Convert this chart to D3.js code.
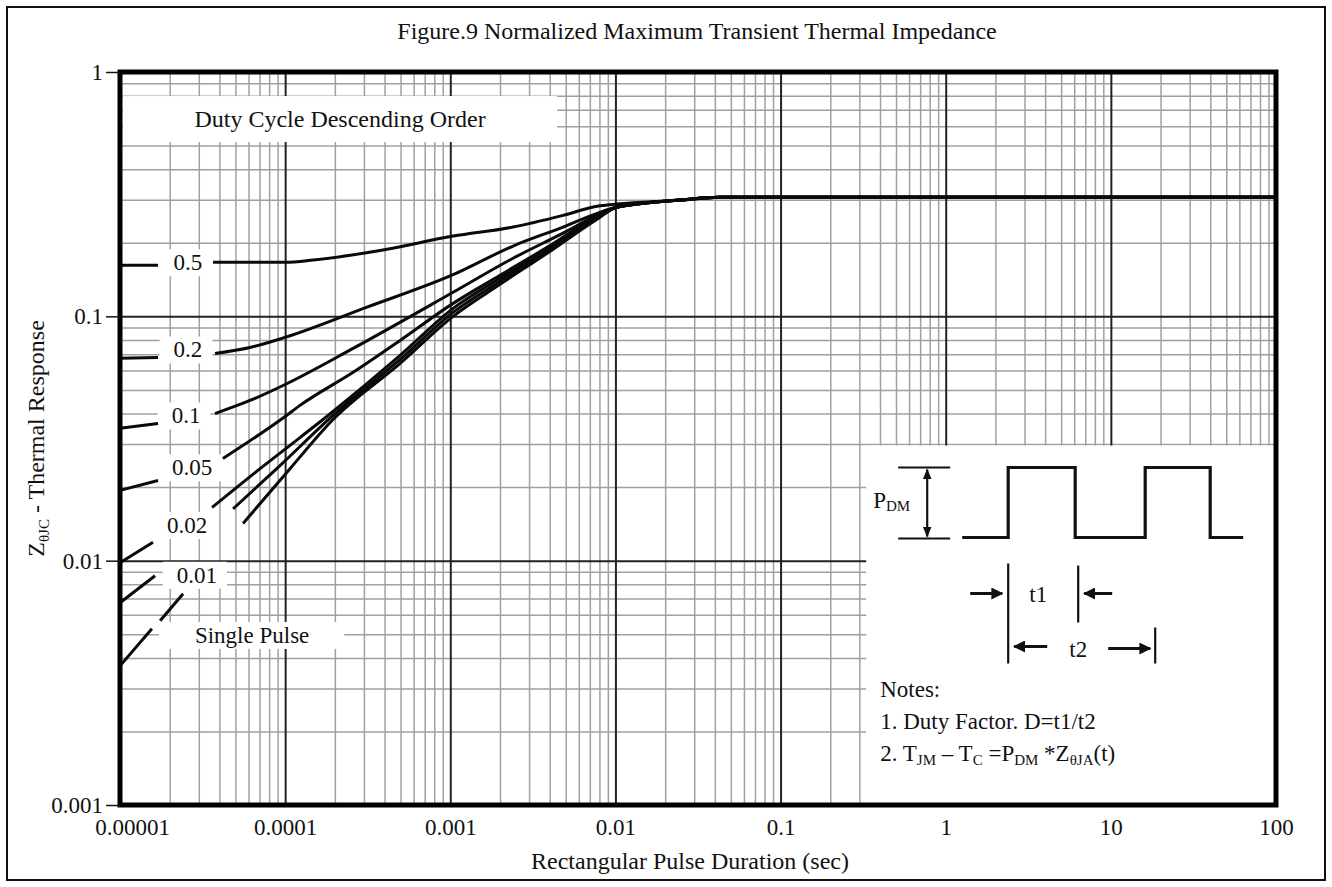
<!DOCTYPE html>
<html>
<head>
<meta charset="utf-8">
<script src="https://cdn.jsdelivr.net/npm/d3@7"></script>
<style>
  body { margin: 0; background: #fff; }
  svg text { font-family: "Liberation Serif", "Times New Roman", serif; fill: #111; }
</style>
</head>
<body>
<div id="chart"></div>
<script>
// axis ticks
const xTicks = [1e-5, 1e-4, 1e-3, 1e-2, 1e-1, 1, 10, 100];
const xTickLabels = ["0.00001", "0.0001", "0.001", "0.01", "0.1", "1", "10", "100"];
const yTicks = [0.001, 0.01, 0.1, 1];
const yTickLabels = ["0.001", "0.01", "0.1", "1"];

// curves: [pulse duration (sec), Z thermal response], null = gap behind a label
const duty05 = [[1e-5,0.162],[1.7e-5,0.162],null,[3.66e-5,0.1665],[1e-4,0.1665],[1.48e-4,0.170],[3.76e-4,0.186],[1.04e-3,0.213],[2.4e-3,0.232],[4.82e-3,0.259],[7.75e-3,0.282],[0.0102,0.288],[0.0247,0.299],[0.043,0.307],[100,0.307]];
const duty02 = [[1e-5,0.0673],[1.7e-5,0.0679],null,[3.76e-5,0.0705],[6.13e-5,0.0746],[1e-4,0.082],[3.13e-4,0.109],[1.04e-3,0.148],[2.4e-3,0.194],[4.82e-3,0.232],[7.75e-3,0.264],[0.0102,0.28],[0.0247,0.299],[0.043,0.307],[100,0.307]];
const duty01 = [[1e-5,0.0348],[1.7e-5,0.0364],null,[3.76e-5,0.040],[6.13e-5,0.04525],[1e-4,0.0526],[2.58e-4,0.0739],[1.04e-3,0.1254],[2.4e-3,0.1729],[4.82e-3,0.219],[7.75e-3,0.2594],[0.0102,0.2797],[0.0247,0.299],[0.043,0.307],[100,0.307]];
const duty005 = [[1e-5,0.0194],[1.7e-5,0.0213],null,[4.2e-5,0.0262],[1e-4,0.0389],[1.23e-4,0.0432],[2.58e-4,0.059],[4.97e-4,0.0797],[1.04e-3,0.113],[2e-3,0.1472],[3.86e-3,0.1917],[7.75e-3,0.257],[0.0102,0.2797],[0.0247,0.299],[0.043,0.307],[100,0.307]];
const duty002 = [[1e-5,0.0098],[1.585e-5,0.0119],null,[3.61e-5,0.0165],[7.05e-5,0.0238],[1.23e-4,0.0319],[1.95e-4,0.0408],[4.97e-4,0.0692],[1.04e-3,0.1078],[2e-3,0.1431],[3.86e-3,0.1882],[7.75e-3,0.2545],[0.0102,0.2797],[0.0247,0.299],[0.043,0.307],[100,0.307]];
const duty001 = [[1e-5,0.00673],[1.63e-5,0.00868],null,[4.84e-5,0.0163],[9.31e-5,0.0245],[1.95e-4,0.0393],[4.97e-4,0.0666],[1.04e-3,0.1038],[2e-3,0.1391],[3.86e-3,0.1847],[7.75e-3,0.2522],[0.0102,0.2797],[0.0247,0.299],[0.043,0.307],[100,0.307]];
const singlePulse = [[1e-5,0.00371],[1.56e-5,0.00526],null,[1.75e-5,0.00568],[2.41e-5,0.00732],null,[5.56e-5,0.0142],[1.07e-4,0.0238],[1.95e-4,0.0378],[4.97e-4,0.0642],[1.04e-3,0.100],[2e-3,0.1352],[3.86e-3,0.1812],[7.75e-3,0.2498],[0.0102,0.2797],[0.0247,0.299],[0.043,0.307],[100,0.307]];

// curve labels, placed at (t, Z)
const curveLabels = ["0.5", "0.2", "0.1", "0.05", "0.02", "0.01", "Single Pulse"];
const labelT = [2.58e-5, 2.58e-5, 2.51e-5, 2.73e-5, 2.55e-5, 2.92e-5, 6.31e-5];
const labelZ = [0.1665, 0.0732, 0.0393, 0.0241, 0.0140, 0.00876, 0.00497];

const width = 1332;
const height = 887;
const margin = {top: 72, left: 120, right: 56, bottom: 82};

const svg = d3.select("#chart")
  .append("svg")
  .attr("width", width)
  .attr("height", height);

// arrow markers for the inset
const defs = svg.append("defs");
defs.append("marker")
  .attr("id", "arrow")
  .attr("viewBox", "0 0 10 10")
  .attr("refX", 9).attr("refY", 5)
  .attr("markerWidth", 4).attr("markerHeight", 4)
  .attr("markerUnits", "strokeWidth")
  .attr("orient", "auto-start-reverse")
  .append("path")
  .attr("d", "M0,0 L10,5 L0,10 z")
  .attr("fill", "#111");
defs.append("marker")
  .attr("id", "arrowSmall")
  .attr("viewBox", "0 0 10 10")
  .attr("refX", 9).attr("refY", 5)
  .attr("markerWidth", 5).attr("markerHeight", 5)
  .attr("markerUnits", "strokeWidth")
  .attr("orient", "auto-start-reverse")
  .append("path")
  .attr("d", "M0,1 L10,5 L0,9 z")
  .attr("fill", "#111");

// outer border
svg.append("rect")
  .attr("x", 7).attr("y", 7)
  .attr("width", width - 14).attr("height", height - 14)
  .attr("fill", "none")
  .attr("stroke", "#111")
  .attr("stroke-width", 2);

// scales
const xScale = d3.scaleLog()
  .domain([1e-5, 100])
  .range([margin.left, width - margin.right]);

const yScale = d3.scaleLog()
  .domain([0.001, 1])
  .range([height - margin.bottom, margin.top]);

const plotW = xScale.range()[1] - xScale.range()[0];
const plotH = yScale.range()[0] - yScale.range()[1];

// minor grid values 2..9 of every decade
const minorX = [];
for (let e = -5; e < 2; e++) for (let k = 2; k < 10; k++) minorX.push(k * Math.pow(10, e));
const minorY = [];
for (let e = -3; e < 0; e++) for (let k = 2; k < 10; k++) minorY.push(k * Math.pow(10, e));

function gridStyle(g, color, w) {
  g.select(".domain").remove();
  g.selectAll("line").attr("stroke", color).attr("stroke-width", w);
}

svg.append("g")
  .attr("transform", `translate(0,${yScale(0.001)})`)
  .call(d3.axisBottom(xScale).tickValues(minorX).tickSize(-plotH).tickFormat(""))
  .call(gridStyle, "#a0a0a0", 1.5);
svg.append("g")
  .attr("transform", `translate(${xScale(1e-5)},0)`)
  .call(d3.axisLeft(yScale).tickValues(minorY).tickSize(-plotW).tickFormat(""))
  .call(gridStyle, "#a0a0a0", 1.5);
svg.append("g")
  .attr("transform", `translate(0,${yScale(0.001)})`)
  .call(d3.axisBottom(xScale).tickValues(xTicks).tickSize(-plotH).tickFormat(""))
  .call(gridStyle, "#222", 2);
svg.append("g")
  .attr("transform", `translate(${xScale(1e-5)},0)`)
  .call(d3.axisLeft(yScale).tickValues(yTicks).tickSize(-plotW).tickFormat(""))
  .call(gridStyle, "#222", 2);

// white boxes that hide the grid behind text
const boxes = svg.append("g");

// "Duty Cycle Descending Order" heading
const dutyX = xScale(2.15e-4), dutyY = yScale(0.642);
boxes.append("rect")
  .attr("x", xScale(1e-5) + 3).attr("y", dutyY - 23)
  .attr("width", dutyX - xScale(1e-5) + 214).attr("height", 46)
  .attr("fill", "#fff");

// inset area (bottom right)
const insetX = xScale(0.33), insetY = yScale(0.0296);
boxes.append("rect")
  .attr("x", insetX).attr("y", insetY)
  .attr("width", xScale(100) - insetX).attr("height", yScale(0.001) - insetY)
  .attr("fill", "#fff");

// curve label texts (measure first, then box)
const labelG = svg.append("g");
const labelTexts = labelG.selectAll("text")
  .data(curveLabels)
  .enter()
  .append("text")
    .attr("x", (d, i) => xScale(labelT[i]))
    .attr("y", (d, i) => yScale(labelZ[i]))
    .attr("dy", "0.35em")
    .attr("text-anchor", "middle")
    .attr("font-size", 23)
    .text(d => d);

labelTexts.each(function(d) {
  const b = this.getBBox();
  const padL = d.length > 4 ? 36 : 14;
  const padR = d.length > 4 ? 35 : 10;
  boxes.append("rect")
    .attr("x", b.x - padL).attr("y", b.y - 1)
    .attr("width", b.width + padL + padR).attr("height", b.height + 2)
    .attr("fill", "#fff");
});

// curves
const line = d3.line()
  .defined(d => d !== null)
  .x(d => xScale(d[0]))
  .y(d => yScale(d[1]))
  .curve(d3.curveMonotoneX);

const curves = [duty05, duty02, duty01, duty005, duty002, duty001, singlePulse];
svg.append("g")
  .selectAll("path")
  .data(curves)
  .enter()
  .append("path")
    .attr("d", line)
    .attr("fill", "none")
    .attr("stroke", "#0a0a0a")
    .attr("stroke-width", 3)
    .attr("stroke-linejoin", "round");

labelG.raise();

// heading text
svg.append("text")
  .attr("x", dutyX).attr("y", dutyY)
  .attr("dy", "0.35em")
  .attr("text-anchor", "middle")
  .attr("font-size", 24)
  .text("Duty Cycle Descending Order");

// frame
svg.append("rect")
  .attr("x", xScale(1e-5)).attr("y", yScale(1))
  .attr("width", plotW).attr("height", plotH)
  .attr("fill", "none")
  .attr("stroke", "#000")
  .attr("stroke-width", 5);

// axes with labels
const yAxis = svg.append("g")
  .attr("transform", `translate(${xScale(1e-5)},0)`)
  .call(d3.axisLeft(yScale).tickValues(yTicks).tickSize(14).tickPadding(3)
    .tickFormat((d, i) => yTickLabels[i]));
yAxis.select(".domain").remove();
yAxis.selectAll("line").attr("stroke", "#111").attr("stroke-width", 1.5);
yAxis.selectAll("text").attr("font-size", 23).attr("font-family", "Liberation Serif, serif").attr("fill", "#111");

const xAxis = svg.append("g")
  .attr("transform", `translate(0,${yScale(0.001)})`)
  .call(d3.axisBottom(xScale).tickValues(xTicks).tickSize(0).tickPadding(14)
    .tickFormat((d, i) => xTickLabels[i]));
xAxis.select(".domain").remove();
xAxis.selectAll("text")
  .attr("font-size", 23).attr("font-family", "Liberation Serif, serif").attr("fill", "#111")
  .attr("dx", (d, i) => i === 0 ? 12 : 0);

// title and axis titles
svg.append("text")
  .attr("x", 697).attr("y", 39)
  .attr("text-anchor", "middle")
  .attr("font-size", 24)
  .text("Figure.9 Normalized Maximum Transient Thermal Impedance");

svg.append("text")
  .attr("x", (xScale.range()[0] + xScale.range()[1]) / 2 - 8)
  .attr("y", 869)
  .attr("text-anchor", "middle")
  .attr("font-size", 24)
  .text("Rectangular Pulse Duration (sec)");

const yTitle = svg.append("text")
  .attr("transform", `translate(44,${(yScale.range()[0] + yScale.range()[1]) / 2}) rotate(-90)`)
  .attr("text-anchor", "middle")
  .attr("font-size", 24);
yTitle.append("tspan").text("Z");
yTitle.append("tspan").attr("font-size", 15).attr("dy", 5).text("θJC");
yTitle.append("tspan").attr("dy", -5).text(" - Thermal Response");

// inset: pulse train diagram and notes
const inset = svg.append("g").attr("transform", `translate(${insetX},${insetY})`);
const stroke = (sel, w) => sel.attr("stroke", "#111").attr("stroke-width", w).attr("fill", "none");

inset.append("line").attr("x1", 32).attr("x2", 84).attr("y1", 22).attr("y2", 22).call(stroke, 2.2);
inset.append("line").attr("x1", 32).attr("x2", 84).attr("y1", 93).attr("y2", 93).call(stroke, 2.2);
inset.append("line").attr("x1", 61).attr("x2", 61).attr("y1", 24).attr("y2", 91)
  .call(stroke, 2.2)
  .attr("marker-start", "url(#arrowSmall)").attr("marker-end", "url(#arrowSmall)");

const pd = inset.append("text").attr("x", 7).attr("y", 62).attr("font-size", 23);
pd.append("tspan").text("P");
pd.append("tspan").attr("font-size", 15).attr("dy", 3).text("DM");

const wave = [[96,92],[142,92],[142,22],[209,22],[209,92],[279,92],[279,22],[344,22],[344,92],[377,92]];
inset.append("path")
  .attr("d", d3.line()(wave))
  .call(stroke, 3.2)
  .attr("stroke-linejoin", "miter");

inset.append("line").attr("x1", 142).attr("x2", 142).attr("y1", 118).attr("y2", 218).call(stroke, 2.2);
inset.append("line").attr("x1", 212).attr("x2", 212).attr("y1", 120).attr("y2", 177).call(stroke, 2.2);
inset.append("line").attr("x1", 289).attr("x2", 289).attr("y1", 182).attr("y2", 218).call(stroke, 2.2);

inset.append("line").attr("x1", 104).attr("x2", 136).attr("y1", 148).attr("y2", 148)
  .call(stroke, 3).attr("marker-end", "url(#arrow)");
inset.append("line").attr("x1", 246).attr("x2", 218).attr("y1", 148).attr("y2", 148)
  .call(stroke, 3).attr("marker-end", "url(#arrow)");
inset.append("line").attr("x1", 181).attr("x2", 148).attr("y1", 201).attr("y2", 201)
  .call(stroke, 3).attr("marker-end", "url(#arrow)");
inset.append("line").attr("x1", 242).attr("x2", 284).attr("y1", 203).attr("y2", 203)
  .call(stroke, 3).attr("marker-end", "url(#arrow)");

inset.append("text").attr("x", 172).attr("y", 156).attr("text-anchor", "middle").attr("font-size", 23).text("t1");
inset.append("text").attr("x", 212).attr("y", 211).attr("text-anchor", "middle").attr("font-size", 23).text("t2");

inset.append("text").attr("x", 14).attr("y", 251).attr("font-size", 23).text("Notes:");
inset.append("text").attr("x", 14).attr("y", 283).attr("font-size", 23).text("1. Duty Factor. D=t1/t2");
const note2 = inset.append("text").attr("x", 14).attr("y", 315).attr("font-size", 23);
note2.append("tspan").text("2. T");
note2.append("tspan").attr("font-size", 15).attr("dy", 4).text("JM");
note2.append("tspan").attr("dy", -4).text(" – T");
note2.append("tspan").attr("font-size", 15).attr("dy", 4).text("C");
note2.append("tspan").attr("dy", -4).text(" =P");
note2.append("tspan").attr("font-size", 15).attr("dy", 4).text("DM");
note2.append("tspan").attr("dy", -4).text(" *Z");
note2.append("tspan").attr("font-size", 15).attr("dy", 4).text("θJA");
note2.append("tspan").attr("dy", -4).text("(t)");
</script>
</body>
</html>
